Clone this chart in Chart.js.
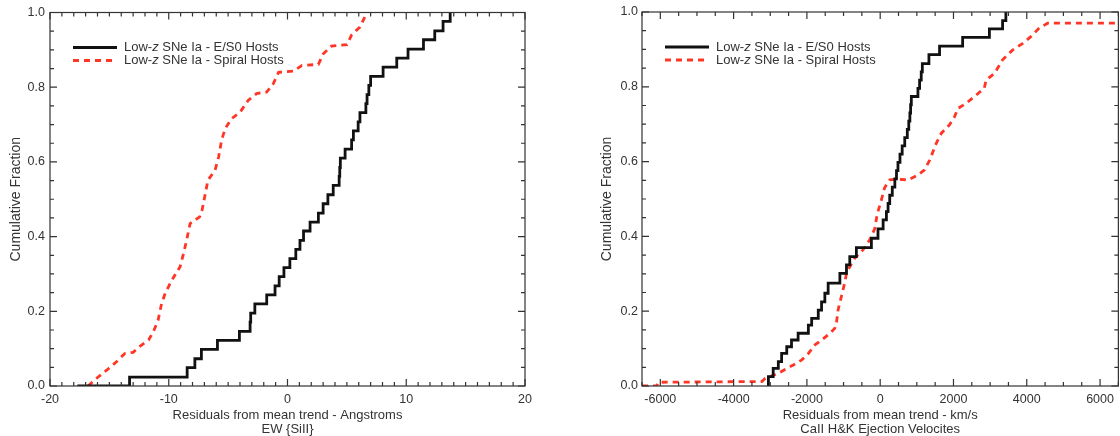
<!DOCTYPE html>
<html>
<head>
<meta charset="utf-8">
<script src="https://cdn.jsdelivr.net/npm/chart.js@4"></script>
<style>
  body { margin: 0; background: #fff; }
  .panel { position: absolute; top: 0; width: 560px; height: 436px; }
</style>
</head>
<body>
<div class="panel" style="left:0"><canvas id="ewChart" width="560" height="436"></canvas></div>
<div class="panel" style="left:560px"><canvas id="velChart" width="560" height="436"></canvas></div>
<script>
const seriesLabels = ['Low-z SNe Ia - E/S0 Hosts', 'Low-z SNe Ia - Spiral Hosts'];
const fracTicks = [0, 0.2, 0.4, 0.6, 0.8, 1.0];
const ewTicks = [-20, -10, 0, 10, 20];
const velTicks = [-6000, -4000, -2000, 0, 2000, 4000, 6000];

// EW(SiII) residuals, E/S0 hosts (step CDF)
const ewE0X = [-17.7, -13.3, -8.45, -7.8, -7.25, -5.9, -4.05, -3.15, -3.1, -2.75, -1.75, -1.05, -0.7, -0.3, 0.2, 0.7, 1.05, 1.35, 1.9, 2.6, 3.0, 3.4, 3.85, 4.35, 4.4, 4.45, 4.85, 5.4, 5.55, 5.95, 6.1, 6.6, 6.7, 6.85, 7.0, 8.05, 9.2, 10.15, 11.45, 12.4, 13.1, 13.7];
const ewE0Y = [0, 0.024, 0.049, 0.073, 0.098, 0.122, 0.146, 0.171, 0.195, 0.22, 0.244, 0.268, 0.293, 0.317, 0.341, 0.366, 0.39, 0.415, 0.439, 0.463, 0.488, 0.512, 0.537, 0.561, 0.585, 0.61, 0.634, 0.659, 0.683, 0.707, 0.732, 0.756, 0.78, 0.805, 0.829, 0.854, 0.878, 0.902, 0.927, 0.951, 0.976, 1.0];
// EW(SiII) residuals, spiral hosts
const ewSpX = [-16.8, -16.1, -15.2, -14.4, -13.7, -13.0, -12.4, -11.7, -11.3, -10.9, -10.6, -10.3, -9.75, -9.05, -8.75, -8.5, -8.2, -7.4, -7.2, -6.7, -6.1, -5.8, -5.55, -5.25, -4.7, -4.0, -3.3, -2.6, -1.75, -1.2, -0.75, 0.5, 1.2, 2.6, 3.0, 3.7, 5.0, 5.4, 6.1, 6.5, 6.7];
const ewSpY = [0, 0.02, 0.043, 0.065, 0.087, 0.09, 0.107, 0.123, 0.145, 0.176, 0.221, 0.248, 0.283, 0.319, 0.355, 0.39, 0.435, 0.453, 0.47, 0.551, 0.578, 0.613, 0.658, 0.689, 0.716, 0.733, 0.765, 0.783, 0.787, 0.809, 0.84, 0.843, 0.858, 0.861, 0.889, 0.91, 0.914, 0.94, 0.961, 0.987, 1.0];

// CaII H&K velocity residuals, E/S0 hosts (step CDF)
const velE0X = [-3050, -3050, -2920, -2780, -2690, -2550, -2420, -2240, -1960, -1870, -1690, -1600, -1510, -1420, -1100, -920, -830, -650, -240, -60, 80, 170, 215, 260, 330, 400, 445, 485, 540, 600, 670, 740, 780, 810, 830, 850, 1030, 1075, 1120, 1150, 1330, 1620, 2250, 2980, 3340, 3430];
const velE0Y = [0, 0.025, 0.047, 0.065, 0.087, 0.105, 0.123, 0.141, 0.163, 0.181, 0.203, 0.225, 0.248, 0.275, 0.301, 0.324, 0.346, 0.37, 0.395, 0.42, 0.444, 0.466, 0.488, 0.51, 0.532, 0.554, 0.576, 0.598, 0.62, 0.642, 0.664, 0.686, 0.708, 0.73, 0.752, 0.774, 0.796, 0.818, 0.84, 0.862, 0.886, 0.909, 0.932, 0.955, 0.977, 1.0];
// CaII H&K velocity residuals, spiral hosts
const velSpX = [-6500, -6100, -6050, -3230, -3140, -2960, -2780, -2550, -2370, -2140, -1960, -1780, -1600, -1370, -1240, -1190, -1150, -1060, -970, -920, -830, -700, -470, -290, -150, -80, 40, 120, 260, 480, 760, 1030, 1210, 1350, 1530, 1670, 1890, 2030, 2120, 2350, 2620, 2840, 2890, 3120, 3340, 3610, 3890, 4110, 4340, 4570, 4700, 6500];
const velSpY = [0, 0, 0.01, 0.012, 0.02, 0.027, 0.034, 0.047, 0.056, 0.07, 0.087, 0.11, 0.123, 0.141, 0.154, 0.172, 0.203, 0.239, 0.275, 0.301, 0.319, 0.341, 0.364, 0.39, 0.42, 0.46, 0.5, 0.53, 0.551, 0.553, 0.551, 0.564, 0.578, 0.604, 0.649, 0.676, 0.698, 0.72, 0.742, 0.756, 0.778, 0.796, 0.818, 0.836, 0.872, 0.898, 0.916, 0.934, 0.957, 0.97, 0.97, 0.97];

Chart.defaults.font.family = '"Liberation Sans", Arial, Helvetica, sans-serif';
Chart.defaults.font.size = 12;
Chart.defaults.color = '#333';

const AXIS_COLOR = '#333';

function toPoints(xs, ys) {
  return xs.map((x, i) => ({ x, y: ys[i] }));
}

function isMajor(v, step) {
  const r = v / step;
  return Math.abs(r - Math.round(r)) < 1e-6;
}

// box around the plot with inward ticks on all four sides
const framePlugin = {
  id: 'frame',
  afterDatasetsDraw(chart, args, opts) {
    const { ctx, chartArea: a } = chart;
    const x = chart.scales.x, y = chart.scales.y;
    ctx.save();
    ctx.strokeStyle = AXIS_COLOR;
    ctx.lineWidth = 1.2;
    ctx.beginPath();
    for (let v = x.min; v <= x.max + 1e-9; v += opts.xMinor) {
      const px = x.getPixelForValue(v);
      const len = isMajor(v, opts.xMajor) ? 7 : 4;
      ctx.moveTo(px, a.bottom); ctx.lineTo(px, a.bottom - len);
      ctx.moveTo(px, a.top); ctx.lineTo(px, a.top + len);
    }
    for (let i = 0; y.min + i * opts.yMinor <= y.max + 1e-9; i++) {
      const v = y.min + i * opts.yMinor;
      const py = y.getPixelForValue(v);
      const len = isMajor(v, opts.yMajor) ? 7 : 4;
      ctx.moveTo(a.left, py); ctx.lineTo(a.left + len, py);
      ctx.moveTo(a.right, py); ctx.lineTo(a.right - len, py);
    }
    ctx.stroke();
    ctx.strokeRect(a.left, a.top, a.right - a.left, a.bottom - a.top);
    ctx.restore();
  }
};

// legend drawn inside the plot, top left
const insetLegend = {
  id: 'insetLegend',
  afterDraw(chart, args, opts) {
    const { ctx, chartArea: a } = chart;
    const font = Chart.defaults.font.family;
    ctx.save();
    chart.data.datasets.forEach((ds, i) => {
      const yy = a.top + opts.y0 + i * opts.dy;
      ctx.strokeStyle = ds.borderColor;
      ctx.lineWidth = ds.borderWidth;
      ctx.setLineDash(ds.borderDash || []);
      ctx.beginPath();
      ctx.moveTo(a.left + opts.x1, yy);
      ctx.lineTo(a.left + opts.x2, yy);
      ctx.stroke();
      ctx.setLineDash([]);

      const label = ds.label;
      const k = label.indexOf('z');
      const parts = [[label.slice(0, k), ''], ['z', 'italic '], [label.slice(k + 1), '']];
      let tx = a.left + opts.tx;
      ctx.fillStyle = '#333';
      ctx.textBaseline = 'middle';
      ctx.textAlign = 'left';
      parts.forEach(([txt, style]) => {
        ctx.font = style + '13px ' + font;
        ctx.fillText(txt, tx, yy);
        tx += ctx.measureText(txt).width;
      });
    });
    ctx.restore();
  }
};

function makeChart(canvas, cfg) {
  return new Chart(canvas, {
    type: 'line',
    data: {
      datasets: [
        {
          label: seriesLabels[0],
          data: toPoints(cfg.e0X, cfg.e0Y),
          borderColor: '#111',
          borderWidth: 2.8,
          stepped: 'before',
          pointRadius: 0
        },
        {
          label: seriesLabels[1],
          data: toPoints(cfg.spX, cfg.spY),
          borderColor: '#ff3526',
          borderWidth: 2.8,
          borderDash: [6, 5],
          pointRadius: 0
        }
      ]
    },
    options: {
      responsive: false,
      animation: false,
      devicePixelRatio: 1,
      layout: { padding: cfg.padding },
      plugins: {
        legend: { display: false },
        tooltip: { enabled: false },
        frame: { xMinor: cfg.xMinor, xMajor: cfg.xMajor, yMinor: 0.05, yMajor: 0.2 },
        insetLegend: { x1: 23, x2: 67, tx: 74, y0: 35, dy: 13 }
      },
      scales: {
        x: {
          type: 'linear',
          min: cfg.xMin,
          max: cfg.xMax,
          grid: { display: false, drawTicks: false },
          border: { display: false },
          afterBuildTicks: s => { s.ticks = cfg.xTicks.map(v => ({ value: v })); },
          afterFit: s => { s.height = 50; },
          ticks: { padding: 6, autoSkip: false, maxRotation: 0, font: { size: 12.5 }, callback: v => String(v) },
          title: {
            display: true,
            text: cfg.xTitle,
            padding: 0,
            font: { size: 13, lineHeight: 1.04 }
          }
        },
        y: {
          min: 0,
          max: 1,
          grid: { display: false, drawTicks: false },
          border: { display: false },
          afterBuildTicks: s => { s.ticks = fracTicks.map(v => ({ value: v })); },
          afterFit: s => { s.width = cfg.yWidth; },
          ticks: { padding: cfg.yTickPad, autoSkip: false, font: { size: 12.5 }, callback: v => v.toFixed(1) },
          title: {
            display: true,
            text: 'Cumulative Fraction',
            padding: { top: cfg.yTitlePad, bottom: 0 },
            font: { size: 14, lineHeight: 1.2 }
          }
        }
      }
    },
    plugins: [framePlugin, insetLegend]
  });
}

makeChart(document.getElementById('ewChart'), {
  e0X: ewE0X, e0Y: ewE0Y, spX: ewSpX, spY: ewSpY,
  xMin: -20, xMax: 20, xTicks: ewTicks, xMinor: 1, xMajor: 10,
  xTitle: ['Residuals from mean trend - Angstroms', 'EW {SiII}'],
  yWidth: 50, yTickPad: 5, yTitlePad: 8,
  padding: { top: 12, right: 35, left: 0, bottom: 0 }
});

makeChart(document.getElementById('velChart'), {
  e0X: velE0X, e0Y: velE0Y, spX: velSpX, spY: velSpY,
  xMin: -6500, xMax: 6500, xTicks: velTicks, xMinor: 500, xMajor: 2000,
  xTitle: ['Residuals from mean trend - km/s', 'CaII H&K Ejection Velocites'],
  yWidth: 82, yTickPad: 4, yTitlePad: 39,
  padding: { top: 12, right: 1, left: 0, bottom: 0 }
});
</script>
</body>
</html>
